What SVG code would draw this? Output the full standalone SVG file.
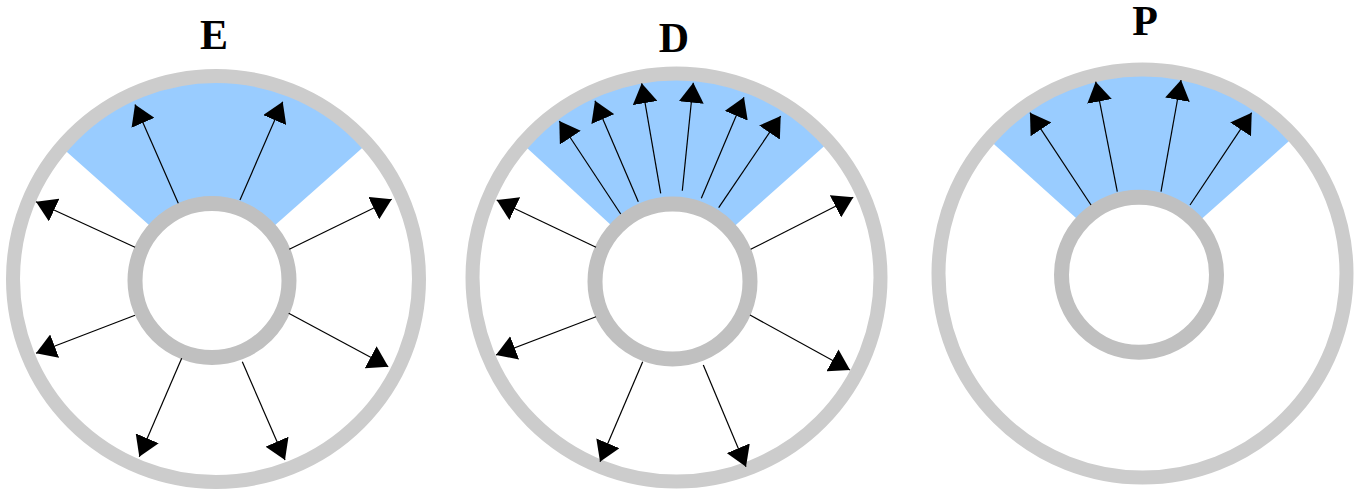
<svg xmlns="http://www.w3.org/2000/svg" width="1357" height="491" viewBox="0 0 1357 491">
<style>
.wedge{fill:#99ccff;stroke:none}
.outer{fill:none;stroke:#cccccc;stroke-width:14}
.inner{fill:#ffffff;stroke:#c0c0c0;stroke-width:15}
.label{font-family:"Liberation Serif","Times New Roman",serif;font-weight:bold;font-size:42px;fill:#000;text-anchor:middle}
.arrow{stroke:#000;stroke-width:1.2;fill:none;marker-end:url(#ah)}
</style>
<defs>
<marker id="ah" viewBox="0 0 20 25" refX="20" refY="12.5" markerWidth="20" markerHeight="25" markerUnits="userSpaceOnUse" orient="auto">
<path d="M0,0 L20,12.5 L0,25 Z" fill="#000"/>
</marker>
</defs>
<rect width="1357" height="491" fill="#ffffff"/>
<g id="node-E">
<path class="wedge" d="M212,281 L61.6,147.3 A203,203 0 0 1 367.3,143.6 Z"/>
<circle class="outer" cx="216" cy="279" r="203"/>
<circle class="inner" cx="212" cy="280.5" r="77"/>
<text class="label" x="214" y="48.7">E</text>
</g>
<g id="node-D">
<path class="wedge" d="M672.5,281.5 L522.4,143.8 A204,204 0 0 1 828.9,141.9 Z"/>
<circle class="outer" cx="676.5" cy="277.5" r="204"/>
<circle class="inner" cx="672.5" cy="281.5" r="77.5"/>
<text class="label" x="674" y="52.3">D</text>
</g>
<g id="node-P">
<path class="wedge" d="M1139,274.7 L988.8,139.4 A204,204 0 0 1 1293.8,136.8 Z"/>
<circle class="outer" cx="1142.5" cy="273.5" r="204"/>
<circle class="inner" cx="1139" cy="274.7" r="77.5"/>
<text class="label" x="1145" y="35">P</text>
</g>
<g id="connectors">
<line class="arrow" x1="178.3" y1="203.3" x2="135" y2="104.5"/>
<line class="arrow" x1="240" y1="200" x2="282.7" y2="101.7"/>
<line class="arrow" x1="135" y1="247.3" x2="36" y2="201.7"/>
<line class="arrow" x1="289.3" y1="249.3" x2="391.7" y2="199.3"/>
<line class="arrow" x1="135" y1="315.3" x2="36" y2="353.3"/>
<line class="arrow" x1="288.7" y1="313.3" x2="388.3" y2="366.7"/>
<line class="arrow" x1="181.7" y1="358.3" x2="139.3" y2="456.7"/>
<line class="arrow" x1="242.3" y1="361.7" x2="285" y2="460"/>

<line class="arrow" x1="620.7" y1="214" x2="559.3" y2="121"/>
<line class="arrow" x1="638.3" y1="201.7" x2="595" y2="100.7"/>
<line class="arrow" x1="660.7" y1="193.3" x2="641.7" y2="83.3"/>
<line class="arrow" x1="682.3" y1="190.7" x2="693.3" y2="82.7"/>
<line class="arrow" x1="701.3" y1="198.3" x2="744" y2="97.3"/>
<line class="arrow" x1="718.7" y1="207.7" x2="780.7" y2="116"/>
<line class="arrow" x1="596" y1="247.3" x2="496.7" y2="200"/>
<line class="arrow" x1="750.7" y1="249.3" x2="853.3" y2="197.3"/>
<line class="arrow" x1="596" y1="316.7" x2="496" y2="355"/>
<line class="arrow" x1="750" y1="315" x2="850" y2="370"/>
<line class="arrow" x1="642.7" y1="361.7" x2="600" y2="461.7"/>
<line class="arrow" x1="703.3" y1="365" x2="746" y2="466.7"/>

<line class="arrow" x1="1091" y1="205" x2="1030" y2="112.7"/>
<line class="arrow" x1="1117.3" y1="191.7" x2="1095.7" y2="81.7"/>
<line class="arrow" x1="1161" y1="191.7" x2="1181" y2="80"/>
<line class="arrow" x1="1190" y1="205" x2="1251.7" y2="112.7"/>
</g>
</svg>
